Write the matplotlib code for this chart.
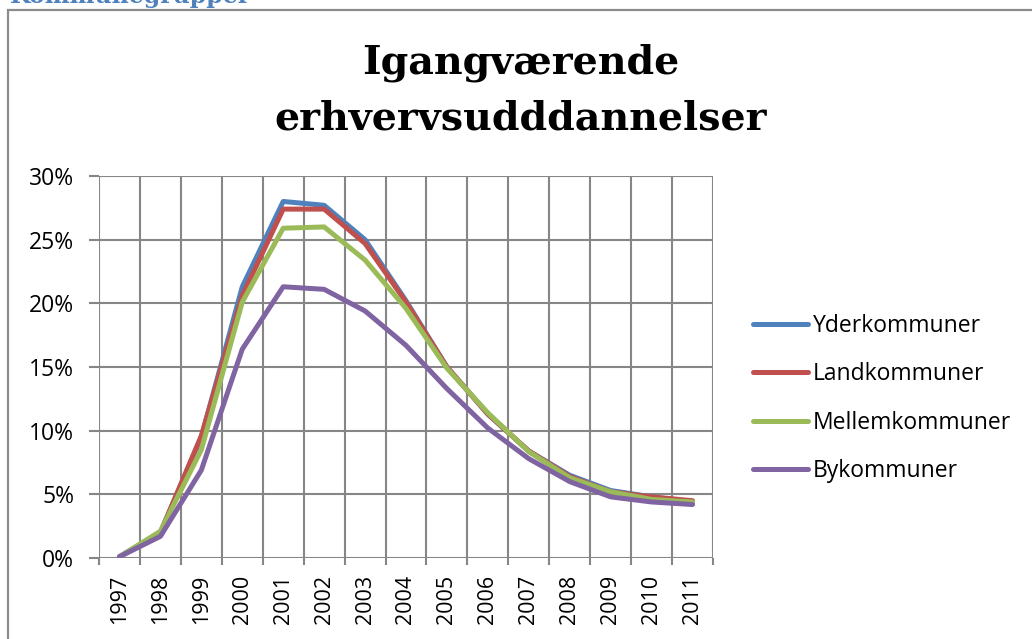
import matplotlib
matplotlib.use("Agg")
import matplotlib.pyplot as plt
from matplotlib.patches import Rectangle
import numpy as np

years = ["1997", "1998", "1999", "2000", "2001", "2002", "2003", "2004",
         "2005", "2006", "2007", "2008", "2009", "2010", "2011"]
series_names = ["Yderkommuner", "Landkommuner", "Mellemkommuner", "Bykommuner"]
yder = [0.1, 2.0, 9.5, 21.3, 28.0, 27.7, 25.0, 20.2, 15.0, 11.3, 8.4, 6.5, 5.3, 4.8, 4.4]
land = [0.1, 2.0, 9.6, 20.6, 27.4, 27.4, 24.7, 20.1, 15.0, 11.3, 8.4, 6.4, 5.2, 4.8, 4.5]
mellem = [0.1, 2.1, 8.5, 20.1, 25.9, 26.0, 23.4, 19.6, 14.9, 11.4, 8.35, 6.3, 5.2, 4.6, 4.4]
by = [0.1, 1.7, 6.9, 16.4, 21.3, 21.1, 19.4, 16.7, 13.3, 10.2, 7.8, 6.0, 4.8, 4.4, 4.2]
colors = ["#4F81BD", "#C0504D", "#9BBB59", "#8064A2"]
yticks = [0, 5, 10, 15, 20, 25, 30]

W, H = 1032, 639
fig = plt.figure(figsize=(W / 100, H / 100), dpi=100)

# chart frame
fig.patches.append(Rectangle((8 / W, 1 - 650 / H), 1040 / W, 640 / H,
                             transform=fig.transFigure, fill=False,
                             edgecolor="#8C8C8C", linewidth=1.6))
# clipped heading above chart (cut off at the top, as in the reference)
fig.text(10 / W, 1 + 4 / H, "Kommunegrupper", color="#4F81BD", fontsize=17,
         fontweight="bold", family="DejaVu Serif", va="center", ha="left")

ax = fig.add_axes([99 / W, 1 - 558 / H, (713 - 99) / W, (558 - 176) / H])
x = np.arange(len(years))
for vals, name, c in zip([yder, land, mellem, by], series_names, colors):
    ax.plot(x, vals, color=c, linewidth=3.6, label=name, solid_capstyle="round")

ax.set_xlim(-0.5, len(years) - 0.5)
ax.set_ylim(0, 30)
ax.set_yticks(yticks)
ax.set_yticklabels([f"{v}%" for v in yticks])
ax.set_xticks(x)
ax.set_xticklabels(years, rotation=90)
ax.set_xticks(np.arange(-0.5, len(years), 1.0), minor=True)
ax.grid(False)
for v in yticks:
    ax.axhline(v, color="#868686", linewidth=1.5, zorder=0)
for b in np.arange(-0.5, len(years), 1.0):
    ax.axvline(b, color="#868686", linewidth=1.5, zorder=0)
ax.tick_params(axis="x", which="major", length=0, pad=12, labelsize=15.5)
ax.tick_params(axis="x", which="minor", length=5, width=1.5, color="#868686")
ax.tick_params(axis="y", length=7, width=1.5, color="#868686", labelsize=16.5, pad=11)
for lab in ax.get_xticklabels() + ax.get_yticklabels():
    lab.set_family("Open Sans")
for s in ax.spines.values():
    s.set_visible(False)

fig.text(521 / W, 1 - 63 / H, "Igangværende", ha="center", va="center",
         fontsize=28.5, fontweight="bold", family="DejaVu Serif")
fig.text(521 / W, 1 - 118 / H, "erhvervsudddannelser", ha="center", va="center",
         fontsize=28.5, fontweight="bold", family="DejaVu Serif")

leg = fig.legend(loc="upper left", bbox_to_anchor=(753 / W, 1 - 314 / H),
                 frameon=False, prop={"family": "Open Sans", "size": 16.5},
                 handlelength=2.4, handletextpad=0.2, labelspacing=1.06,
                 borderpad=0, borderaxespad=0)

fig.savefig("out.png", dpi=100)
